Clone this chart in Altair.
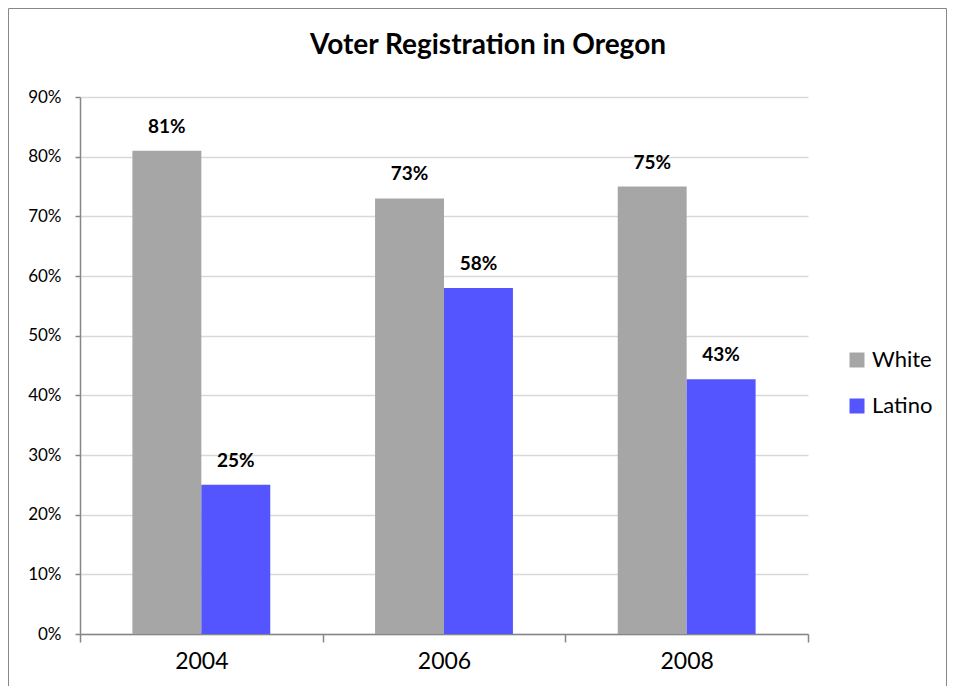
import altair as alt
import pandas as pd

years = ["2004", "2006", "2008"]
groups = ["White", "Latino"]
white = [0.81, 0.73, 0.75]
latino = [0.25, 0.58, 0.427]
colors = ["#A6A6A6", "#5555FF"]
y_ticks = [0, 0.1, 0.2, 0.3, 0.4, 0.5, 0.6, 0.7, 0.8, 0.9]

rows = []
for i, yr in enumerate(years):
    rows.append({"year": yr, "group": "White", "value": white[i]})
    rows.append({"year": yr, "group": "Latino", "value": latino[i]})
df = pd.DataFrame(rows)

FONT = "Lato"

base = alt.Chart(df).encode(
    x=alt.X(
        "year:N",
        sort=years,
        scale=alt.Scale(paddingInner=0, paddingOuter=0),
        axis=alt.Axis(
            title=None, labelAngle=0, tickBand="extent", grid=False,
            labelFont=FONT, labelFontSize=23, labelColor="#000000",
            tickSize=8, tickColor="#868686", domainColor="#868686",
            domainWidth=1.5, tickWidth=1.5, labelPadding=8,
        ),
    ),
    xOffset=alt.XOffset(
        "group:N", sort=groups,
        scale=alt.Scale(paddingInner=0, paddingOuter=0.76),
    ),
    y=alt.Y(
        "value:Q",
        scale=alt.Scale(domain=[0, 0.9], nice=False),
        axis=alt.Axis(
            title=None, format=".0%", values=y_ticks,
            labelFont=FONT, labelFontSize=17, labelColor="#000000",
            tickSize=5, tickColor="#868686", domainColor="#868686",
            domainWidth=1.5, tickWidth=1.5, labelPadding=14,
            gridColor="#D9D9D9", gridWidth=1.5,
        ),
    ),
)

bars = base.mark_bar().encode(
    color=alt.Color(
        "group:N",
        sort=groups,
        scale=alt.Scale(domain=groups, range=colors),
        legend=alt.Legend(
            title=None, orient="none", legendX=766, legendY=252,
            symbolType="square", symbolSize=225, symbolStrokeWidth=0,
            labelFont=FONT, labelFontSize=22, labelColor="#000000",
            rowPadding=24, labelOffset=4,
        ),
    )
)

labels = base.mark_text(
    dy=-18, baseline="alphabetic", font=FONT, fontWeight="bold",
    fontSize=19, color="#000000",
).encode(text=alt.Text("value:Q", format=".0%"))

border = alt.Chart(pd.DataFrame({"a": [0]})).mark_rect(
    fill="transparent", stroke="#888888", strokeWidth=1, clip=False
).encode(
    x=alt.value(-71.5), x2=alt.value(866.5),
    y=alt.value(-88.5), y2=alt.value(640),
)

chart = alt.layer(bars, labels, border).properties(
    width=728,
    height=537,
    padding={"left": 72, "top": 89, "right": 140, "bottom": 52},
    autosize=alt.AutoSizeParams(type="none"),
    title=alt.TitleParams(
        "Voter Registration in Oregon",
        font=FONT, fontSize=28, fontWeight="bold", color="#000000",
        anchor="middle", dx=44, offset=-73.5, baseline="alphabetic",
    ),
).configure_view(stroke=None)

chart.save("out.html", embed_options={"renderer": "svg", "actions": False})
